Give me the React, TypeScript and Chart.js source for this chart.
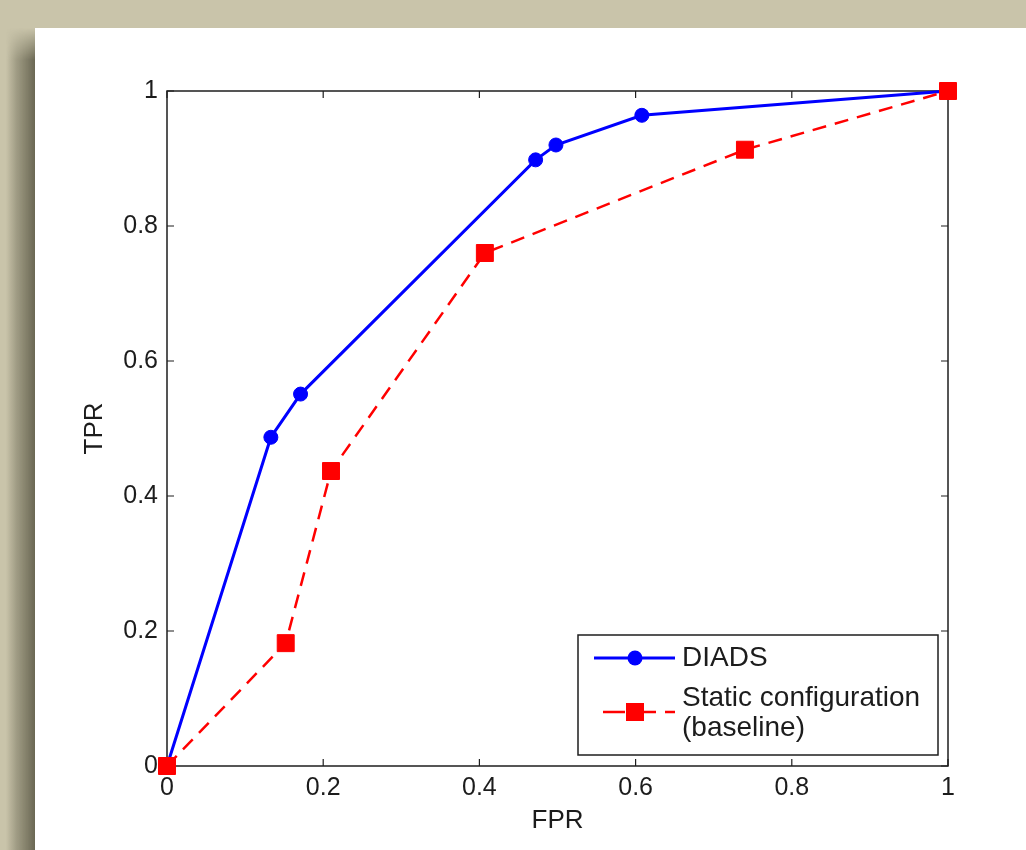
import React, { useEffect, useRef } from 'react';
import { Chart, registerables } from 'chart.js';

Chart.register(...registerables);

// ---- data ----
const fprDiads = [0, 0.133, 0.171, 0.472, 0.498, 0.608, 1];
const tprDiads = [0, 0.487, 0.551, 0.898, 0.92, 0.964, 1];
const fprStatic = [0, 0.152, 0.21, 0.407, 0.74, 1];
const tprStatic = [0, 0.182, 0.437, 0.76, 0.913, 1];

const tickValues = [0, 0.2, 0.4, 0.6, 0.8, 1];
const tickLabels = ['0', '0.2', '0.4', '0.6', '0.8', '1'];

const diadsLabel = 'DIADS';
const staticLabel = ['Static configuration', '(baseline)'];
const xTitle = 'FPR';
const yTitle = 'TPR';

const FONT = '"Liberation Sans", Arial, sans-serif';
const TEXT = '#1c1c1c';
const BLUE = '#0000ff';
const RED = '#ff0000';

const framePlugin = {
  id: 'frame',
  beforeDatasetsDraw(chart: any) {
    const { ctx, chartArea: a, scales } = chart;
    const x = scales.x;
    const y = scales.y;
    ctx.save();
    ctx.strokeStyle = '#1e1e1e';
    ctx.lineWidth = 1.5;
    ctx.strokeRect(a.left, a.top, a.right - a.left, a.bottom - a.top);
    ctx.lineWidth = 1.2;
    ctx.beginPath();
    for (const v of tickValues) {
      const px = x.getPixelForValue(v);
      ctx.moveTo(px, a.bottom);
      ctx.lineTo(px, a.bottom - 7);
      ctx.moveTo(px, a.top);
      ctx.lineTo(px, a.top + 7);
      const py = y.getPixelForValue(v);
      ctx.moveTo(a.left, py);
      ctx.lineTo(a.left + 7, py);
      ctx.moveTo(a.right, py);
      ctx.lineTo(a.right - 7, py);
    }
    ctx.stroke();
    ctx.restore();
  },
};

const legendPlugin = {
  id: 'boxLegend',
  afterDraw(chart: any) {
    const { ctx, chartArea: a } = chart;
    const w = 360;
    const h = 120;
    const right = a.right - 10;
    const bottom = a.bottom - 11;
    const left = right - w;
    const top = bottom - h;
    ctx.save();
    ctx.fillStyle = '#ffffff';
    ctx.fillRect(left, top, w, h);
    ctx.strokeStyle = '#1e1e1e';
    ctx.lineWidth = 1.5;
    ctx.strokeRect(left, top, w, h);

    // row 1: DIADS
    const y1 = top + 23;
    ctx.strokeStyle = BLUE;
    ctx.lineWidth = 3;
    ctx.beginPath();
    ctx.moveTo(left + 16, y1);
    ctx.lineTo(left + 97, y1);
    ctx.stroke();
    ctx.fillStyle = BLUE;
    ctx.beginPath();
    ctx.arc(left + 57, y1, 7.5, 0, Math.PI * 2);
    ctx.fill();

    // row 2: static
    const y2 = top + 77;
    ctx.strokeStyle = RED;
    ctx.lineWidth = 2.5;
    ctx.setLineDash([22, 9]);
    ctx.beginPath();
    ctx.moveTo(left + 25, y2);
    ctx.lineTo(left + 97, y2);
    ctx.stroke();
    ctx.setLineDash([]);
    ctx.fillStyle = RED;
    ctx.fillRect(left + 57 - 9, y2 - 9, 18, 18);

    ctx.fillStyle = TEXT;
    ctx.font = `28px ${FONT}`;
    ctx.textAlign = 'left';
    ctx.textBaseline = 'middle';
    ctx.fillText(diadsLabel, left + 104, y1);
    ctx.fillText(staticLabel[0], left + 104, top + 63);
    ctx.fillText(staticLabel[1], left + 104, top + 93);
    ctx.restore();
  },
};

export default function App() {
  const ref = useRef<HTMLCanvasElement | null>(null);

  useEffect(() => {
    if (!ref.current) return;
    const tickFont = { family: FONT, size: 25 };
    const titleFont = { family: FONT, size: 26 };
    const chart = new Chart(ref.current, {
      type: 'line',
      data: {
        datasets: [
          {
            label: staticLabel.join(' '),
            data: fprStatic.map((x, i) => ({ x, y: tprStatic[i] })),
            borderColor: RED,
            backgroundColor: RED,
            borderWidth: 2.5,
            borderDash: [14, 9],
            pointStyle: 'rect',
            pointRadius: 12,
            pointBorderWidth: 1,
            pointBorderColor: RED,
            pointBackgroundColor: RED,
            tension: 0,
            clip: false,
            order: 0,
          } as any,
          {
            label: diadsLabel,
            data: fprDiads.map((x, i) => ({ x, y: tprDiads[i] })),
            borderColor: BLUE,
            backgroundColor: BLUE,
            borderWidth: 3,
            pointStyle: 'circle',
            pointRadius: 7,
            pointBorderWidth: 1,
            pointBorderColor: BLUE,
            pointBackgroundColor: BLUE,
            tension: 0,
            clip: false,
            order: 1,
          } as any,
        ],
      },
      options: {
        animation: false,
        responsive: false,
        maintainAspectRatio: false,
        events: [],
        layout: { padding: { top: 91, right: 78, left: 0, bottom: 0 } },
        plugins: {
          legend: { display: false },
          tooltip: { enabled: false },
        },
        scales: {
          x: {
            type: 'linear',
            min: 0,
            max: 1,
            afterBuildTicks: (s: any) => {
              s.ticks = tickValues.map((v) => ({ value: v }));
            },
            afterFit: (s: any) => {
              s.height = 84;
            },
            ticks: {
              callback: (_v: any, i: number) => tickLabels[i],
              font: tickFont,
              color: TEXT,
              padding: 7,
              maxRotation: 0,
              autoSkip: false,
            },
            grid: { display: false, drawTicks: false },
            border: { display: false },
            title: {
              display: true,
              text: xTitle,
              font: titleFont,
              color: TEXT,
              padding: { top: 0, bottom: 14 },
            },
          },
          y: {
            type: 'linear',
            min: 0,
            max: 1,
            afterBuildTicks: (s: any) => {
              s.ticks = tickValues.map((v) => ({ value: v }));
            },
            afterFit: (s: any) => {
              s.width = 167;
            },
            ticks: {
              callback: (_v: any, i: number) => tickLabels[i],
              font: tickFont,
              color: TEXT,
              padding: 9,
              autoSkip: false,
            },
            grid: { display: false, drawTicks: false },
            border: { display: false },
            title: {
              display: true,
              text: yTitle,
              font: titleFont,
              color: TEXT,
              padding: { top: 79, bottom: 0 },
            },
          },
        },
      } as any,
      plugins: [framePlugin, legendPlugin],
    });
    return () => chart.destroy();
  }, []);

  return (
    <div
      style={{
        position: 'fixed',
        left: 0,
        top: 0,
        width: 1026,
        height: 850,
        overflow: 'hidden',
        background: '#c9c4aa',
      }}
    >
      <div
        style={{
          position: 'absolute',
          left: 6,
          top: 28,
          width: 29,
          height: 822,
          background:
            'linear-gradient(to right, rgba(60,58,40,0) 0%, rgba(70,68,50,0.3) 35%, rgba(70,68,50,0.72) 100%)',
          WebkitMaskImage: 'linear-gradient(to bottom, transparent 0px, black 32px)',
          maskImage: 'linear-gradient(to bottom, transparent 0px, black 32px)',
        }}
      />
      <div
        style={{
          position: 'absolute',
          left: 35,
          top: 28,
          width: 991,
          height: 822,
          background: '#ffffff',
        }}
      />
      <canvas
        ref={ref}
        width={1026}
        height={850}
        style={{ position: 'absolute', left: 0, top: 0, width: 1026, height: 850 }}
      />
    </div>
  );
}
